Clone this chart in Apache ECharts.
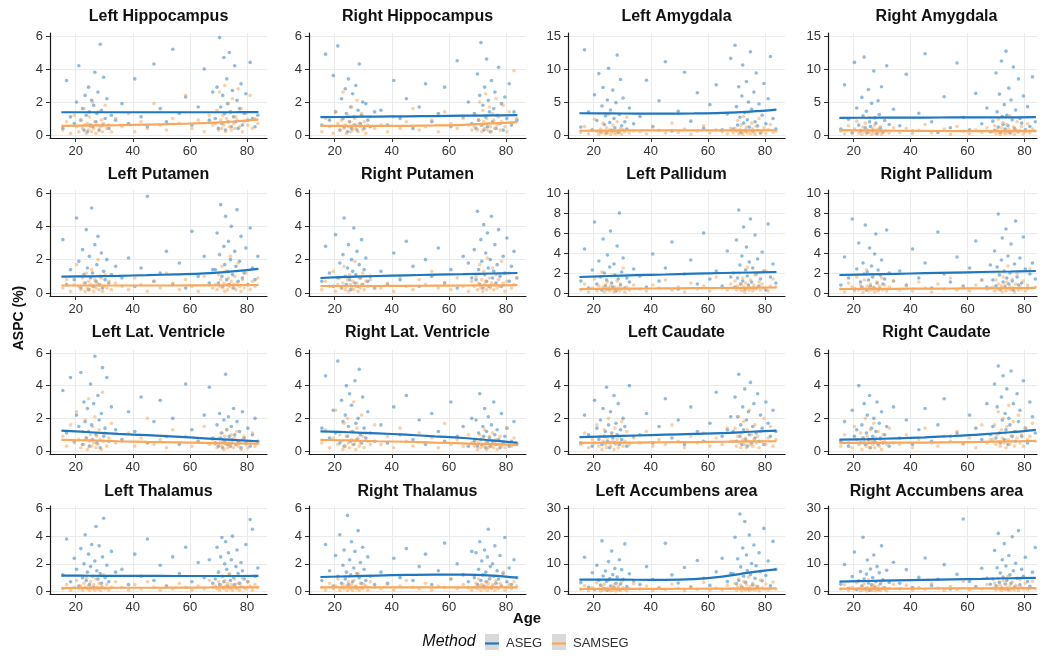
<!DOCTYPE html>
<html>
<head>
<meta charset="utf-8">
<script src="https://cdn.jsdelivr.net/npm/echarts@6/dist/echarts.min.js"></script>
<style>html,body{margin:0;padding:0;background:#fff}#chart{width:1044px;height:656px}</style>
</head>
<body>
<div id="chart"></div>
<script>
// ---------- shared data ----------
const ages = [15.5,16.8,18.2,19.5,20.3,21.1,21.8,22.4,22.9,23.3,23.7,24.1,24.5,24.8,25.2,25.6,25.9,26.3,26.7,27.1,27.4,27.8,28.2,28.6,29.0,29.4,29.8,30.3,30.9,31.6,32.5,34.0,
  36.2,38.5,40.7,42.9,45.1,47.4,49.6,51.8,54.0,56.3,58.5,60.7,62.9,65.0,66.8,68.0,
  68.9,69.5,70.0,70.4,70.8,71.2,71.5,71.9,72.2,72.5,72.9,73.2,73.5,73.8,74.2,74.5,74.9,75.3,75.7,76.1,76.5,76.9,77.4,77.9,78.4,79.0,79.6,80.3,81.1,81.9,82.8,83.8];
const fitAges = [15,25,35,45,55,65,75,84];
const xTicks = [20,40,60,80];
const yTicks6 = [0,2,4,6];
const yTicks10 = [0,2,4,6,8,10];
const yTicks15 = [0,5,10,15];
const yTicks30 = [0,10,20,30];
const panelTitles = ['Left Hippocampus','Right Hippocampus','Left Amygdala','Right Amygdala',
  'Left Putamen','Right Putamen','Left Pallidum','Right Pallidum',
  'Left Lat. Ventricle','Right Lat. Ventricle','Left Caudate','Right Caudate',
  'Left Thalamus','Right Thalamus','Left Accumbens area','Right Accumbens area'];
const methods = ['ASEG','SAMSEG'];

// ---------- per-panel values ----------
const asegLeftHippocampus = [0.4,3.3,1.1,0.7,2.0,4.2,0.9,1.6,0.3,2.4,1.2,0.2,2.9,1.4,0.6,2.1,0.5,1.8,3.8,0.8,1.3,2.6,0.3,5.5,1.5,0.6,3.5,1.0,2.2,0.4,1.2,0.9,
  1.9,0.7,3.4,1.1,0.5,4.3,1.6,0.8,5.2,1.3,2.3,0.6,1.7,4.0,0.9,2.6,
  1.0,2.9,0.4,5.9,1.7,0.7,2.4,4.7,1.3,0.3,3.4,1.9,0.8,5.0,1.4,0.5,2.7,1.1,4.2,0.8,2.1,0.4,1.6,3.1,0.6,1.3,2.5,0.9,4.4,1.0,0.5,1.2];
const samsegLeftHippocampus = [0.3,0.8,0.1,1.2,0.5,0.2,0.9,0.4,1.6,0.6,0.1,0.7,0.3,1.1,0.5,0.2,2.0,0.4,0.8,0.1,0.6,1.4,0.3,0.5,0.9,0.2,0.7,1.8,0.4,0.6,0.2,1.0,
  0.5,1.3,0.2,0.8,0.4,1.9,0.6,0.3,1.0,0.7,2.4,0.4,0.9,0.2,1.2,0.6,
  0.7,1.5,0.3,2.6,0.9,0.4,1.2,0.6,3.0,0.2,1.0,0.8,1.9,0.5,1.4,0.3,2.2,0.7,0.4,1.1,0.9,2.8,0.5,1.6,0.2,0.8,1.3,0.6,2.4,0.4,1.0,0.7];
const asegRightHippocampus = [0.6,4.9,0.9,3.6,1.4,5.4,0.3,2.2,1.0,0.5,2.8,1.3,0.2,3.4,0.8,1.7,0.4,2.5,1.1,0.6,3.0,0.3,1.5,4.3,0.7,1.2,2.0,0.4,1.9,0.9,0.5,1.4,
  1.5,0.6,3.3,1.0,2.2,0.4,1.7,3.1,0.8,1.3,2.9,0.5,4.5,1.1,2.0,0.7,
  1.3,0.4,3.7,0.9,2.4,5.6,0.6,1.8,0.3,2.9,1.1,4.6,0.5,2.1,1.4,0.2,3.3,0.8,1.6,2.6,0.4,1.2,4.1,0.7,1.9,0.3,2.3,1.0,3.1,0.6,1.4,0.9];
const samsegRightHippocampus = [0.2,1.0,0.5,0.1,1.4,0.7,0.3,0.9,2.6,0.4,0.6,0.1,1.2,0.5,0.8,0.2,1.7,0.3,0.6,1.0,0.4,2.1,0.2,0.7,0.5,1.3,0.3,0.8,0.1,0.6,1.1,0.4,
  0.6,0.2,1.1,0.4,0.8,1.6,0.3,0.5,0.9,0.2,1.4,0.7,0.4,1.0,0.6,0.3,
  0.5,1.2,0.3,0.9,2.0,0.6,0.2,1.5,0.8,0.4,2.5,1.0,0.3,0.7,1.7,0.5,0.2,1.3,0.9,0.4,2.2,0.6,1.1,0.3,0.8,1.8,0.5,0.2,1.4,0.7,3.9,1.0];
const asegLeftAmygdala = [1.2,12.9,3.5,0.8,6.1,2.2,9.3,0.5,4.4,7.2,1.6,2.9,0.3,5.3,10.1,1.9,3.8,0.7,6.8,2.5,1.1,4.9,12.1,0.4,3.1,8.4,1.4,5.6,2.0,0.9,4.1,1.7,
  2.8,8.3,1.3,5.2,11.1,0.6,3.6,9.5,2.1,6.4,1.0,4.6,7.6,0.8,3.2,11.6,
  0.9,13.6,4.3,1.5,7.3,2.7,0.4,5.9,10.6,1.8,3.4,0.7,8.1,2.3,5.0,1.2,12.6,3.9,0.6,6.5,2.0,9.4,1.4,4.7,0.3,3.0,7.8,1.7,5.5,11.9,2.5,0.9];
const samsegLeftAmygdala = [0.4,1.3,0.2,0.7,2.4,0.5,0.1,0.9,0.3,1.8,0.6,0.2,1.1,0.4,3.1,0.8,0.1,0.5,1.5,0.3,0.7,0.2,2.0,0.6,0.4,1.0,0.1,0.8,0.5,2.7,0.3,0.6,
  0.5,0.2,1.2,0.7,0.3,1.8,0.4,0.9,0.1,0.6,1.4,0.3,0.8,0.5,0.2,1.0,
  0.3,1.0,0.6,2.2,0.2,0.8,1.5,0.4,0.1,2.8,0.7,0.5,1.2,0.3,3.4,0.6,0.2,1.8,0.9,0.4,0.1,1.3,0.7,2.5,0.3,0.5,1.1,0.2,0.8,1.6,0.4,0.6];
const asegRightAmygdala = [0.9,7.6,2.4,0.3,11.0,4.1,1.5,0.6,5.7,2.9,11.8,1.1,3.6,0.4,6.9,2.0,1.3,4.8,0.7,9.7,2.6,1.8,0.2,5.2,3.1,1.0,7.3,0.5,2.2,10.5,1.6,3.9,
  1.4,9.2,0.6,3.3,12.3,2.0,0.4,5.8,1.1,10.9,2.7,0.8,6.3,1.7,4.1,0.5,
  2.1,0.7,9.4,3.5,1.2,6.2,0.4,11.2,2.8,1.6,4.6,0.9,12.7,3.0,1.4,7.1,0.3,5.3,2.3,10.3,1.0,3.8,0.6,8.5,2.5,1.8,5.9,0.8,4.3,1.3,8.8,2.0];
const samsegRightAmygdala = [0.6,0.2,1.4,0.4,0.9,2.1,0.3,0.7,0.1,1.2,0.5,1.8,0.2,0.8,0.4,2.6,0.6,0.1,1.0,0.3,1.5,0.7,0.2,0.9,0.5,1.3,0.1,0.4,2.2,0.6,0.3,1.1,
  0.4,1.0,0.2,0.7,1.6,0.3,0.5,0.9,0.1,1.3,0.6,0.2,0.8,0.4,1.1,0.5,
  0.5,1.4,0.2,0.8,2.4,0.4,0.1,1.1,0.6,1.9,0.3,0.7,0.2,1.6,0.5,0.9,2.9,0.3,0.6,1.2,0.1,0.8,2.0,0.4,0.7,1.3,0.2,0.5,1.7,0.3,0.9,0.6];
const asegLeftPutamen = [3.2,0.5,1.4,0.8,4.5,1.9,0.3,2.6,1.1,0.6,3.8,1.5,0.2,2.2,0.9,5.1,1.2,0.4,2.9,0.7,1.7,3.4,0.5,1.0,2.4,0.3,1.3,0.8,2.0,0.6,1.1,1.6,
  0.9,2.1,0.4,1.5,5.8,0.7,1.2,2.5,0.5,1.8,0.3,3.7,1.0,2.2,0.6,1.4,
  1.4,3.6,0.6,2.3,5.3,1.0,0.4,2.8,1.7,4.6,0.8,1.3,3.1,0.5,2.0,4.0,1.1,0.3,2.5,1.6,5.0,0.7,1.9,3.4,0.9,1.2,2.7,0.5,3.9,1.5,0.8,2.2];
const samsegLeftPutamen = [0.3,0.8,0.1,0.5,1.7,0.4,0.2,0.9,0.6,0.1,1.2,0.3,0.7,0.2,0.5,1.4,0.4,0.1,0.8,0.3,0.6,2.0,0.2,0.5,0.9,0.1,0.4,1.1,0.3,0.7,0.2,0.6,
  0.4,0.2,0.9,0.5,0.1,0.7,0.3,1.2,0.6,0.2,0.8,0.4,0.1,1.0,0.5,0.3,
  0.5,0.2,1.1,0.4,0.8,1.6,0.3,0.6,0.1,1.3,0.5,0.2,0.9,0.4,2.2,0.7,0.3,0.5,1.0,0.2,0.6,1.8,0.4,0.1,0.8,0.3,1.2,0.5,0.2,0.7,0.4,0.9];
const asegRightPutamen = [0.7,2.8,1.2,0.4,3.5,0.9,1.8,0.3,2.3,4.5,1.0,0.5,1.5,2.9,0.8,0.2,2.0,1.3,3.9,0.6,1.1,2.5,0.4,1.7,0.9,3.2,0.5,1.4,2.1,0.7,1.0,0.3,
  1.3,0.5,2.4,0.8,3.1,1.6,0.4,2.0,1.0,2.7,0.6,1.4,0.3,2.2,1.8,0.9,
  2.6,0.8,4.9,1.4,0.5,3.2,1.9,0.3,4.1,1.1,2.4,0.7,3.6,1.5,0.4,2.0,4.6,0.9,1.3,2.9,0.6,1.7,3.8,1.0,0.4,2.2,1.2,3.3,0.7,1.6,2.5,0.9];
const samsegRightPutamen = [0.2,0.7,0.4,1.3,0.1,0.5,0.9,0.3,0.6,1.6,0.2,0.4,0.8,0.1,1.1,0.5,0.3,0.7,0.2,1.9,0.4,0.6,0.1,0.9,0.3,0.5,1.2,0.2,0.7,0.4,0.8,0.3,
  0.3,0.6,0.1,1.0,0.4,0.2,0.8,0.5,1.3,0.3,0.6,0.2,0.9,0.4,0.1,0.7,
  0.4,1.0,0.2,0.6,1.7,0.3,0.8,0.1,1.3,0.5,0.7,0.2,2.1,0.4,0.9,0.3,0.6,1.5,0.2,0.5,1.1,0.3,0.8,0.4,1.9,0.6,0.1,0.7,1.2,0.3,0.5,0.9];
const asegLeftPallidum = [1.2,4.4,0.5,2.3,7.1,0.9,3.2,1.6,0.3,5.4,2.0,0.7,1.3,3.8,0.4,2.6,6.2,1.0,0.6,2.9,1.8,0.2,4.7,1.4,8.0,0.8,2.1,3.5,0.5,1.5,1.1,2.4,
  1.7,0.6,3.9,1.2,2.5,5.1,0.4,1.9,3.3,0.9,6.0,1.4,2.2,0.7,4.2,1.6,
  2.0,0.6,5.3,1.5,8.3,2.8,0.9,3.7,1.2,6.6,0.4,2.3,4.6,1.7,0.8,3.1,7.4,1.1,2.5,0.5,5.8,1.9,3.4,0.7,1.4,4.1,2.2,0.3,6.9,1.6,2.9,1.0];
const samsegLeftPallidum = [0.3,0.9,0.1,0.5,1.4,0.2,0.7,0.4,2.1,0.6,0.1,0.8,0.3,1.1,0.5,0.2,0.7,1.7,0.4,0.1,0.6,0.3,1.2,0.5,0.2,0.9,0.4,2.5,0.1,0.6,0.3,0.8,
  0.4,0.2,0.8,0.5,1.3,0.3,0.6,0.1,1.0,0.4,0.7,0.2,1.6,0.5,0.3,0.9,
  0.5,1.2,0.3,0.7,2.0,0.4,0.9,0.2,1.5,0.6,0.1,1.0,0.4,2.6,0.7,0.3,1.3,0.5,0.2,0.8,1.8,0.4,0.6,1.1,0.3,0.9,0.5,2.2,0.2,0.7,1.4,0.6];
const asegRightPallidum = [0.8,3.6,1.5,7.4,0.4,2.4,5.0,1.1,0.6,3.0,1.9,6.8,0.3,2.1,1.3,4.5,0.7,2.7,1.6,0.5,3.9,5.9,1.0,2.3,0.4,1.8,3.3,0.9,1.4,6.3,2.0,1.2,
  2.2,0.8,4.4,1.5,3.0,0.5,6.1,1.9,1.1,3.6,0.7,2.5,5.2,1.3,0.6,2.8,
  1.3,4.2,0.7,2.6,7.9,1.8,0.4,3.3,5.5,1.1,2.2,0.6,6.4,1.5,3.7,0.9,2.0,4.9,1.2,0.3,2.9,7.2,1.6,0.8,3.5,1.0,5.6,2.4,0.5,1.9,3.0,1.4];
const samsegRightPallidum = [0.4,0.1,1.0,0.6,0.2,1.6,0.3,0.8,0.5,0.1,1.3,0.4,2.3,0.7,0.2,0.5,0.9,0.3,1.8,0.6,0.1,0.4,1.1,0.2,0.7,0.5,1.5,0.3,0.8,0.2,0.6,1.2,
  0.3,0.7,0.2,1.1,0.5,0.1,0.9,0.4,1.5,0.3,0.6,0.2,0.8,1.3,0.4,0.5,
  0.6,0.2,1.3,0.4,0.9,2.1,0.3,0.7,0.1,1.6,0.5,0.8,0.2,1.1,2.7,0.4,0.6,0.3,1.4,0.5,0.1,0.9,1.9,0.3,0.7,0.4,1.2,0.2,0.8,2.4,0.5,0.6];
const asegLeftLatVentricle = [3.7,1.1,4.5,0.6,2.2,1.5,4.8,0.4,3.0,1.8,0.8,2.6,1.2,0.3,4.1,1.6,0.7,2.9,5.8,1.0,0.5,3.4,1.9,0.2,2.3,5.1,0.9,1.4,4.5,0.6,2.7,1.3,
  0.7,2.4,1.2,3.3,0.5,1.8,3.1,0.9,2.0,0.4,4.1,1.3,0.6,2.2,3.9,0.8,
  0.5,1.6,0.3,2.3,0.8,1.1,0.2,1.9,0.6,4.7,1.3,0.4,2.1,0.9,0.3,1.5,0.7,2.6,1.0,0.4,1.8,0.6,1.2,0.2,2.4,0.8,0.5,1.4,0.3,1.0,2.0,0.6];
const samsegLeftLatVentricle = [0.9,0.3,1.6,0.5,2.4,0.7,0.2,1.2,0.4,1.9,0.8,0.1,3.2,0.6,1.0,0.3,1.5,0.5,2.1,0.2,0.9,0.4,1.3,0.7,0.1,3.6,0.6,1.1,0.3,0.8,1.7,0.5,
  0.6,1.1,0.3,0.8,2.0,0.4,0.7,0.2,1.3,0.5,0.9,0.3,0.6,1.5,0.4,0.7,
  0.4,0.2,0.8,0.5,1.1,0.3,0.6,0.1,0.9,0.4,1.3,0.2,0.7,0.5,0.3,1.0,0.6,0.2,0.8,0.4,1.2,0.3,0.5,0.1,0.7,0.9,0.4,0.2,0.6,1.1,0.3,0.5];
const asegRightLatVentricle = [1.4,4.6,0.8,2.5,1.1,5.5,0.5,3.1,1.8,0.3,2.2,4.0,0.9,1.5,3.5,0.6,2.8,1.2,0.4,4.3,1.7,0.7,2.0,5.0,1.0,0.5,3.3,1.4,0.8,2.4,1.1,0.6,
  1.6,0.5,2.7,1.0,3.4,0.7,1.9,0.4,2.3,1.2,0.6,3.0,0.9,1.5,0.3,2.0,
  0.6,1.9,0.3,1.1,3.5,0.7,0.4,1.5,0.9,2.6,0.2,1.2,0.5,2.1,0.8,0.3,1.6,0.6,3.0,1.0,0.4,1.3,0.7,0.2,2.3,0.5,0.9,1.4,0.3,0.6,1.8,0.4];
const samsegRightLatVentricle = [0.5,1.3,0.2,0.8,2.5,0.4,1.0,0.6,0.1,1.7,0.3,0.9,2.0,0.5,0.2,1.2,0.7,0.4,3.0,0.6,0.1,1.4,0.8,0.3,0.5,2.2,0.9,0.2,1.1,0.6,0.4,1.6,
  0.4,0.9,0.2,1.4,0.6,0.3,1.1,0.5,0.8,0.2,1.7,0.4,0.7,0.3,1.0,0.5,
  0.3,0.7,0.1,0.5,1.0,0.2,0.4,0.8,0.3,1.3,0.5,0.1,0.6,0.2,0.9,0.4,0.3,1.1,0.2,0.5,0.7,0.1,0.4,0.9,0.3,0.6,0.2,1.4,0.4,0.3,0.8,0.5];
const asegLeftCaudate = [0.5,2.2,1.0,0.3,3.1,1.4,0.7,1.9,0.4,2.6,0.9,1.2,3.9,0.6,1.6,0.2,2.4,1.1,0.8,3.4,0.5,1.7,1.0,2.9,0.4,1.3,0.7,2.0,1.5,0.3,4.0,0.9,
  1.0,2.3,0.5,1.5,3.2,0.8,1.9,0.4,2.7,1.2,0.6,1.7,3.6,0.9,1.3,2.1,
  1.2,3.3,0.6,2.1,4.7,0.9,1.6,0.4,2.7,1.3,3.8,0.7,1.9,0.3,2.4,1.0,4.2,0.5,1.5,2.9,0.8,1.1,3.5,0.6,2.2,1.4,0.4,3.0,1.7,0.9,2.5,1.2];
const samsegLeftCaudate = [0.4,1.1,0.2,0.7,0.5,1.6,0.3,0.9,0.1,0.6,1.3,0.4,0.2,0.8,2.0,0.5,0.3,1.0,0.6,0.1,1.4,0.4,0.7,0.2,0.9,0.5,1.8,0.3,0.6,1.2,0.4,0.8,
  0.5,1.2,0.3,0.7,0.4,1.6,0.6,0.2,0.9,0.5,1.1,0.3,0.8,0.4,1.4,0.6,
  0.6,1.4,0.3,0.9,2.1,0.5,0.2,1.1,0.7,1.8,0.4,0.8,0.2,1.3,0.6,2.5,0.4,1.0,0.3,0.7,1.6,0.5,0.9,0.2,1.2,0.6,2.0,0.4,0.8,1.5,0.3,0.7];
const asegRightCaudate = [0.6,1.8,0.3,2.5,0.9,1.3,4.0,0.5,1.6,0.8,2.9,0.4,1.1,2.2,0.7,3.4,0.2,1.4,0.9,2.0,0.6,1.2,3.0,0.4,1.7,0.8,2.4,0.5,1.0,1.5,0.3,2.7,
  0.8,1.9,0.4,1.3,2.6,0.6,1.6,3.2,0.9,1.1,0.5,2.2,1.4,0.7,2.9,1.0,
  1.5,4.1,0.8,2.7,5.2,1.1,0.5,3.3,1.9,4.6,0.7,2.3,1.3,3.8,0.4,2.0,1.6,4.9,0.9,2.9,1.2,0.6,3.5,1.8,2.5,0.9,4.3,1.4,0.5,3.0,2.1,1.1];
const samsegRightCaudate = [0.3,1.0,0.5,0.2,1.5,0.7,0.4,1.1,0.1,0.8,0.6,2.0,0.3,0.9,0.5,0.2,1.3,0.6,0.4,1.7,0.2,0.8,0.5,1.2,0.3,0.7,0.1,1.0,0.6,0.4,1.4,0.5,
  0.4,1.0,0.2,0.7,1.4,0.5,0.3,0.9,0.6,1.2,0.4,0.8,0.2,1.6,0.5,0.7,
  0.7,1.6,0.4,1.0,2.4,0.6,0.3,1.3,0.8,2.0,0.5,1.1,0.2,1.5,0.7,2.8,0.4,0.9,0.6,1.8,0.3,1.2,0.8,2.2,0.5,1.0,0.3,1.4,0.7,0.9,1.7,0.6];
const asegLeftThalamus = [1.2,3.8,0.7,2.4,1.6,0.4,3.1,1.0,2.0,4.1,0.8,1.4,2.7,0.5,1.8,3.4,1.1,0.3,2.2,4.7,1.5,0.9,3.3,1.3,0.6,2.5,5.3,1.0,1.9,0.7,2.9,1.4,
  1.6,0.5,2.7,1.1,3.8,0.8,1.9,0.4,2.5,1.3,3.2,0.7,2.1,1.0,2.3,0.6,
  0.9,3.2,1.4,0.5,2.5,3.9,1.1,0.7,2.0,3.6,1.6,0.4,2.8,1.2,0.8,2.3,4.0,1.0,0.5,1.8,3.0,1.3,0.6,2.1,1.5,0.9,3.4,0.7,5.2,4.5,1.1,1.7];
const samsegLeftThalamus = [0.2,0.5,0.1,0.3,0.8,0.2,0.4,0.1,0.6,0.3,1.0,0.2,0.4,0.1,0.7,0.3,0.2,0.5,0.1,0.9,0.3,0.2,0.6,0.1,0.4,0.3,1.2,0.2,0.5,0.1,0.3,0.7,
  0.3,0.1,0.5,0.2,0.7,0.3,0.1,0.4,0.2,0.6,0.3,0.1,0.4,0.2,0.8,0.3,
  0.4,0.2,0.7,0.1,0.5,1.1,0.3,0.2,0.8,0.4,0.1,0.6,0.3,1.3,0.2,0.5,0.1,0.4,0.9,0.3,0.2,0.6,0.1,0.4,1.0,0.3,0.2,0.7,0.4,0.1,0.5,0.3];
const asegRightThalamus = [0.8,3.4,1.5,0.4,2.6,1.1,4.1,0.6,1.9,3.0,0.9,1.4,5.5,0.5,2.3,1.2,3.6,0.7,1.7,2.9,0.3,1.3,4.4,1.0,2.1,0.6,3.2,1.6,0.8,2.5,1.1,0.5,
  1.4,0.6,2.4,1.0,3.1,0.8,1.8,2.7,0.5,1.5,3.5,0.9,2.0,1.2,0.7,2.9,
  1.0,2.8,0.5,1.6,3.6,0.8,2.2,1.2,0.4,3.0,1.4,0.7,2.5,4.5,0.9,1.8,0.3,2.0,1.1,3.3,0.6,1.5,0.9,2.6,0.4,1.3,3.9,0.7,1.7,0.5,2.3,1.0];
const samsegRightThalamus = [0.3,0.1,0.6,0.2,0.4,0.9,0.1,0.3,0.5,0.2,1.1,0.4,0.1,0.7,0.3,0.2,0.5,0.1,0.8,0.3,0.4,0.2,1.3,0.1,0.6,0.3,0.2,0.5,0.4,0.1,0.7,0.3,
  0.2,0.5,0.1,0.4,0.8,0.3,0.2,0.6,0.1,0.4,0.3,0.9,0.2,0.5,0.3,0.1,
  0.3,0.6,0.2,0.9,0.4,0.1,0.5,1.2,0.3,0.2,0.7,0.4,0.1,0.6,0.3,1.0,0.2,0.5,0.4,0.1,0.8,0.3,0.2,0.6,0.4,1.4,0.1,0.3,0.5,0.2,0.7,0.4];
const asegLeftAccumbens = [3.2,12.4,1.5,6.8,0.8,9.5,4.1,2.3,18.3,5.6,1.1,7.4,3.6,0.5,10.8,4.7,2.0,14.6,6.1,1.4,8.3,3.0,5.2,0.9,11.5,2.7,7.9,4.4,17.2,1.8,6.4,3.8,
  2.5,9.0,4.3,1.2,17.4,6.0,3.1,8.7,1.6,11.2,4.8,2.2,7.1,12.0,3.6,6.6,
  6.4,19.6,2.8,11.8,4.0,28.0,8.9,1.5,15.7,5.5,25.3,3.3,13.2,7.6,0.9,20.4,6.1,10.1,2.4,16.8,4.8,9.3,1.7,14.0,7.2,3.9,22.8,5.8,11.0,2.1,18.1,8.0];
const samsegLeftAccumbens = [0.8,2.1,0.3,1.4,0.6,3.2,1.0,0.2,1.8,0.5,2.6,0.9,0.4,1.2,4.0,0.7,0.3,1.6,0.5,2.3,1.1,0.2,0.8,1.9,0.6,0.4,3.5,1.3,0.7,0.3,1.0,2.8,
  0.9,2.0,0.4,1.3,0.7,2.7,1.1,0.3,1.6,0.8,3.3,0.5,1.2,0.6,2.2,1.0,
  1.1,2.9,0.5,1.7,4.5,0.8,2.2,0.3,1.4,3.6,0.9,0.6,2.5,1.2,5.2,0.4,1.9,0.7,3.1,1.0,0.5,2.0,1.5,0.3,4.1,1.3,0.8,2.7,0.6,1.1,3.4,0.9];
const asegRightAccumbens = [2.6,9.8,1.2,5.4,14.3,0.7,3.9,7.2,2.0,19.6,4.5,1.0,6.3,11.4,3.1,0.5,8.1,2.4,5.0,13.2,1.5,3.5,9.0,0.8,6.8,2.8,16.5,4.2,1.3,7.7,3.3,10.6,
  3.0,7.9,1.4,5.1,12.1,2.2,4.4,9.7,0.9,6.2,26.2,3.6,1.8,8.4,4.8,2.6,
  4.5,14.8,2.1,8.6,21.0,3.3,6.7,1.2,11.5,5.2,17.3,2.7,9.2,4.0,0.8,13.0,6.0,3.0,19.8,7.5,1.6,10.2,4.8,22.0,2.4,8.0,5.5,12.4,3.6,1.9,7.0,15.9];
const samsegRightAccumbens = [0.9,2.4,0.4,1.5,0.7,3.3,1.1,0.3,1.9,0.6,2.8,1.0,0.2,1.3,4.2,0.8,0.5,1.7,0.4,2.2,1.2,0.3,0.9,2.0,0.6,0.4,3.7,1.4,0.8,0.3,1.1,2.6,
  1.0,2.3,0.5,1.4,0.8,3.0,1.2,0.4,1.8,0.7,3.6,0.6,1.3,0.9,2.5,1.1,
  1.2,3.1,0.6,1.9,4.8,0.9,2.4,0.4,1.5,3.9,1.0,0.7,2.7,1.3,5.5,0.5,2.1,0.8,3.4,1.1,0.6,2.2,1.6,0.4,4.4,1.4,0.9,3.0,0.7,1.2,3.7,1.0];

// ---------- smooth fits (read at fitAges) ----------
const asegFitLeftHippocampus   = [1.38,1.38,1.38,1.38,1.38,1.38,1.38,1.39];
const samsegFitLeftHippocampus = [0.55,0.58,0.60,0.63,0.67,0.72,0.82,0.93];
const asegFitRightHippocampus   = [1.08,1.10,1.12,1.13,1.15,1.17,1.19,1.21];
const samsegFitRightHippocampus = [0.55,0.55,0.55,0.56,0.58,0.62,0.70,0.78];
const asegFitLeftAmygdala   = [3.30,3.28,3.25,3.25,3.27,3.35,3.55,3.85];
const samsegFitLeftAmygdala = [0.65,0.68,0.70,0.70,0.70,0.70,0.72,0.72];
const asegFitRightAmygdala   = [2.60,2.62,2.63,2.65,2.66,2.67,2.68,2.70];
const samsegFitRightAmygdala = [0.75,0.70,0.65,0.62,0.60,0.60,0.60,0.62];
const asegFitLeftPutamen   = [0.98,1.00,1.03,1.07,1.12,1.18,1.30,1.45];
const samsegFitLeftPutamen = [0.45,0.45,0.45,0.45,0.45,0.46,0.47,0.48];
const asegFitRightPutamen   = [0.90,0.97,1.02,1.06,1.10,1.13,1.17,1.20];
const samsegFitRightPutamen = [0.42,0.42,0.42,0.43,0.44,0.45,0.46,0.47];
const asegFitLeftPallidum   = [1.60,1.70,1.78,1.85,1.93,2.00,2.05,2.10];
const samsegFitLeftPallidum = [0.40,0.42,0.44,0.46,0.48,0.50,0.52,0.55];
const asegFitRightPallidum   = [1.80,1.86,1.92,1.98,2.04,2.10,2.15,2.20];
const samsegFitRightPallidum = [0.40,0.41,0.42,0.44,0.45,0.47,0.48,0.50];
const asegFitLeftLatVentricle   = [1.25,1.15,1.05,0.97,0.88,0.78,0.68,0.60];
const samsegFitLeftLatVentricle = [0.68,0.65,0.60,0.56,0.53,0.50,0.47,0.45];
const asegFitRightLatVentricle   = [1.20,1.15,1.08,1.00,0.90,0.80,0.65,0.50];
const samsegFitRightLatVentricle = [0.68,0.65,0.60,0.57,0.52,0.47,0.42,0.38];
const asegFitLeftCaudate   = [0.85,0.90,0.95,1.00,1.05,1.10,1.18,1.25];
const samsegFitLeftCaudate = [0.50,0.51,0.52,0.54,0.55,0.57,0.59,0.60];
const asegFitRightCaudate   = [0.70,0.73,0.78,0.84,0.92,1.02,1.15,1.30];
const samsegFitRightCaudate = [0.50,0.50,0.51,0.52,0.54,0.56,0.59,0.62];
const asegFitLeftThalamus   = [1.15,1.14,1.13,1.13,1.12,1.12,1.12,1.13];
const samsegFitLeftThalamus = [0.25,0.26,0.27,0.27,0.28,0.29,0.30,0.30];
const asegFitRightThalamus   = [1.05,1.10,1.15,1.20,1.22,1.22,1.15,1.00];
const samsegFitRightThalamus = [0.30,0.30,0.30,0.30,0.30,0.30,0.30,0.30];
const asegFitLeftAccumbens   = [4.30,4.30,4.25,4.20,4.50,5.40,6.90,8.00];
const samsegFitLeftAccumbens = [0.90,0.92,0.95,0.98,1.00,1.03,1.07,1.10];
const asegFitRightAccumbens   = [3.60,3.80,4.00,4.20,4.40,4.60,4.80,4.90];
const samsegFitRightAccumbens = [1.00,1.03,1.06,1.09,1.12,1.15,1.18,1.20];

// ---------- assemble panels ----------
const panels = [
  [asegLeftHippocampus, samsegLeftHippocampus, asegFitLeftHippocampus, samsegFitLeftHippocampus, yTicks6],
  [asegRightHippocampus, samsegRightHippocampus, asegFitRightHippocampus, samsegFitRightHippocampus, yTicks6],
  [asegLeftAmygdala, samsegLeftAmygdala, asegFitLeftAmygdala, samsegFitLeftAmygdala, yTicks15],
  [asegRightAmygdala, samsegRightAmygdala, asegFitRightAmygdala, samsegFitRightAmygdala, yTicks15],
  [asegLeftPutamen, samsegLeftPutamen, asegFitLeftPutamen, samsegFitLeftPutamen, yTicks6],
  [asegRightPutamen, samsegRightPutamen, asegFitRightPutamen, samsegFitRightPutamen, yTicks6],
  [asegLeftPallidum, samsegLeftPallidum, asegFitLeftPallidum, samsegFitLeftPallidum, yTicks10],
  [asegRightPallidum, samsegRightPallidum, asegFitRightPallidum, samsegFitRightPallidum, yTicks10],
  [asegLeftLatVentricle, samsegLeftLatVentricle, asegFitLeftLatVentricle, samsegFitLeftLatVentricle, yTicks6],
  [asegRightLatVentricle, samsegRightLatVentricle, asegFitRightLatVentricle, samsegFitRightLatVentricle, yTicks6],
  [asegLeftCaudate, samsegLeftCaudate, asegFitLeftCaudate, samsegFitLeftCaudate, yTicks6],
  [asegRightCaudate, samsegRightCaudate, asegFitRightCaudate, samsegFitRightCaudate, yTicks6],
  [asegLeftThalamus, samsegLeftThalamus, asegFitLeftThalamus, samsegFitLeftThalamus, yTicks6],
  [asegRightThalamus, samsegRightThalamus, asegFitRightThalamus, samsegFitRightThalamus, yTicks6],
  [asegLeftAccumbens, samsegLeftAccumbens, asegFitLeftAccumbens, samsegFitLeftAccumbens, yTicks30],
  [asegRightAccumbens, samsegRightAccumbens, asegFitRightAccumbens, samsegFitRightAccumbens, yTicks30]
];

// ---------- layout / style ----------
const FONT = 'Liberation Sans, Arial, Helvetica, sans-serif';
const BLUE = '#1f77c0', ORANGE = '#f9a75b';
const colLeft = [50, 309, 568, 828];
const colWidth = [217, 217, 217, 209];
const colXMax = [87, 87, 87, 84.4];
const rowTop = [33, 190, 350, 506];
const rowH = [105, 106, 104, 88];
const titleTop = [9, 167, 325, 484];

const grids = [], xAxes = [], yAxes = [], series = [], titles = [];
panels.forEach((p, i) => {
  const r = Math.floor(i / 4), c = i % 4;
  const [aseg, samseg, asegFit, samsegFit, yTicks] = p;
  const T = yTicks[yTicks.length - 1];
  grids.push({ left: colLeft[c], top: rowTop[r], width: colWidth[c], height: rowH[r] });
  titles.push({ text: panelTitles[i], left: colLeft[c] + colWidth[c] / 2 + (c === 3 ? 4 : 0), top: titleTop[r], textAlign: 'center', padding: 0,
    textStyle: { fontFamily: FONT, fontSize: 16, fontWeight: 'bold', color: '#111' } });
  xAxes.push({ type: 'value', gridIndex: i, min: 11, max: colXMax[c],
    axisLine: { show: true, onZero: false, lineStyle: { color: '#1a1a1a', width: 1.2 } },
    axisTick: { show: true, length: 4, customValues: xTicks, lineStyle: { color: '#333', width: 1 } },
    axisLabel: { customValues: xTicks, margin: 7, fontFamily: FONT, fontSize: 13, color: '#333' },
    splitLine: { show: true, lineStyle: { color: '#ebebeb', width: 1 } } });
  yAxes.push({ type: 'value', gridIndex: i, min: -0.03 * T, max: 1.03 * T,
    axisLine: { show: true, onZero: false, lineStyle: { color: '#1a1a1a', width: 1.2 } },
    axisTick: { show: true, length: 4, customValues: yTicks, lineStyle: { color: '#333', width: 1 } },
    axisLabel: { customValues: yTicks, margin: 7, fontFamily: FONT, fontSize: 13, color: '#333' },
    splitLine: { show: true, lineStyle: { color: '#ebebeb', width: 1 } } });
  series.push({ name: methods[0], type: 'line', xAxisIndex: i, yAxisIndex: i, smooth: 0.4, showSymbol: false, silent: true, z: 5,
    lineStyle: { color: BLUE, width: 2.2 }, itemStyle: { color: BLUE },
    data: fitAges.map((a, k) => [a, asegFit[k]]) });
  series.push({ name: methods[1], type: 'line', xAxisIndex: i, yAxisIndex: i, smooth: 0.4, showSymbol: false, silent: true, z: 5,
    lineStyle: { color: ORANGE, width: 2.2 }, itemStyle: { color: ORANGE },
    data: fitAges.map((a, k) => [a, samsegFit[k]]) });
  series.push({ name: methods[0], type: 'scatter', xAxisIndex: i, yAxisIndex: i, symbolSize: 3.6, silent: true, z: 2,
    itemStyle: { color: BLUE, opacity: 0.5 }, data: ages.map((a, k) => [a, aseg[k]]) });
  series.push({ name: methods[1], type: 'scatter', xAxisIndex: i, yAxisIndex: i, symbolSize: 3.6, silent: true, z: 3,
    itemStyle: { color: ORANGE, opacity: 0.55 }, data: ages.map((a, k) => [a, samseg[k]]) });
});

const legendCommon = { orient: 'horizontal', top: 637, padding: 0, itemWidth: 14, itemHeight: 16,
  icon: 'path://M0,0h14v2.2h-14z', symbolKeepAspect: true, selectedMode: false,
  textStyle: { fontFamily: FONT, fontSize: 13, color: '#333', padding: [0, 0, 0, 2] } };

const option = {
  animation: false,
  backgroundColor: '#fff',
  title: titles,
  grid: grids,
  xAxis: xAxes,
  yAxis: yAxes,
  legend: [
    Object.assign({}, legendCommon, { left: 485, data: [methods[0]] }),
    Object.assign({}, legendCommon, { left: 552, data: [methods[1]] })
  ],
  graphic: [
    { type: 'rect', z: 0, shape: { x: 485, y: 634, width: 14, height: 16 }, style: { fill: '#d9d9d9' } },
    { type: 'rect', z: 0, shape: { x: 552, y: 634, width: 14, height: 16 }, style: { fill: '#d9d9d9' } },
    { type: 'text', x: 449, y: 642, style: { text: 'Method', fontFamily: FONT, fontSize: 16, fontStyle: 'italic', fill: '#111', align: 'center', verticalAlign: 'middle' } },
    { type: 'text', x: 527, y: 619, style: { text: 'Age', fontFamily: FONT, fontSize: 15, fontWeight: 'bold', fill: '#111', align: 'center', verticalAlign: 'middle' } },
    { type: 'text', x: 19, y: 318, rotation: Math.PI / 2, style: { text: 'ASPC (%)', fontFamily: FONT, fontSize: 14, fontWeight: 'bold', fill: '#111', align: 'center', verticalAlign: 'middle' } }
  ],
  series: series
};

const chart = echarts.init(document.getElementById('chart'), null, { renderer: 'canvas' });
chart.setOption(option);
</script>
</body>
</html>
